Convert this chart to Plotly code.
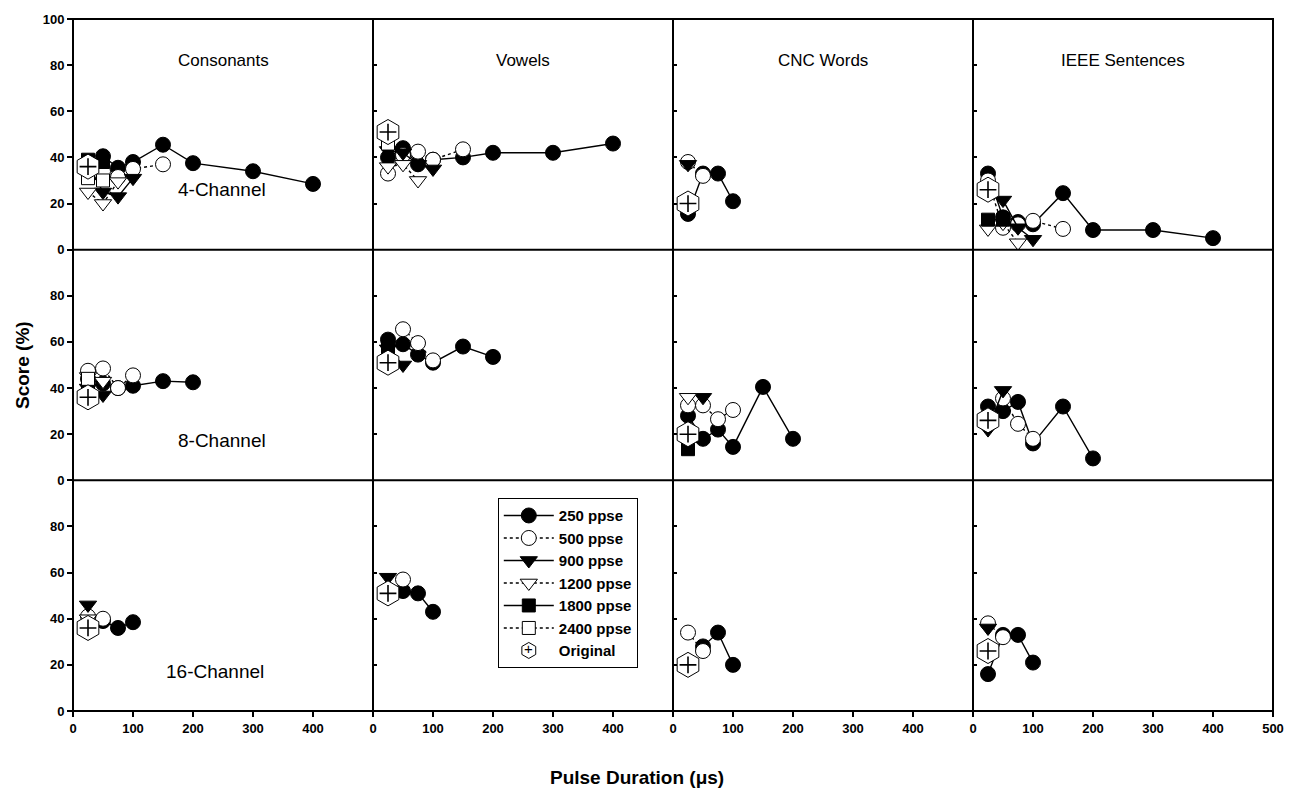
import plotly.graph_objects as go
from plotly.subplots import make_subplots

# Pulse durations (microseconds) at which each condition was tested
durations = [25, 50, 75, 100, 150, 200, 300, 400]
tests = ["Consonants", "Vowels", "CNC Words", "IEEE Sentences"]
channels = ["4-Channel", "8-Channel", "16-Channel"]

# Unprocessed ("Original") score for each test, plotted at 25 us
original = [36, 51, 20, 26]

# Scores (%) per pulse rate; each list holds [4-ch, 8-ch, 16-ch] rows aligned to `durations`
consonants_250 = [[38, 40.5, 35.5, 38, 45.5, 37.5, 34, 28.5], [44, 42, 40, 41, 43, 42.5], [38, 39, 36, 38.5]]
consonants_500 = [[36, 34, 31.5, 35, 37], [47.5, 48.5, 40, 45.5], [41, 40]]
consonants_900 = [[37, 25, 23, 31], [40, 37], [46]]
consonants_1200 = [[25, 20, 29.5], [45, 43], [40]]
consonants_1800 = [[39, 38], [42], []]
consonants_2400 = [[31, 30], [44], []]

vowels_250 = [[40, 44, 37, 39, 40, 42, 42, 46], [61, 59, 54.5, 51, 58, 53.5], [None, 52, 51, 43]]
vowels_500 = [[33, 41, 42.5, 39, 43.5], [None, 65.5, 59.5, 52], [None, 57]]
vowels_900 = [[43, 42, 37, 35], [57, 50], [58]]
vowels_1200 = [[36, 37, 30], [], []]
vowels_1800 = [[], [57], []]
vowels_2400 = [[46], [], []]

cnc_250 = [[15.5, 33, 33, 21], [28, 18, 22, 14.5, 40.5, 18], [None, 28, 34, 20]]
cnc_500 = [[38, 32], [32.5, 32.5, 26.5, 30.5], [34, 26]]
cnc_900 = [[37], [None, 36], []]
cnc_1200 = [[], [36], []]
cnc_1800 = [[], [13.5], []]
cnc_2400 = [[], [], []]

ieee_250 = [[33, 14, 12, 11, 24.5, 8.5, 8.5, 5], [32, 30, 34, 16, 32, 9.5], [16, 33, 33, 21]]
ieee_500 = [[30, 9.5, 11, 12.5, 9], [None, 35.5, 24.5, 18], [38, 32]]
ieee_900 = [[None, 21.5, 9.5, 4.5], [22, 39], [36]]
ieee_1200 = [[9, 11.5, 3], [], []]
ieee_1800 = [[13, 13], [], []]
ieee_2400 = [[], [], []]

rate_labels = ["250 ppse", "500 ppse", "900 ppse", "1200 ppse", "1800 ppse", "2400 ppse"]
scores = {
    "Consonants": [consonants_250, consonants_500, consonants_900, consonants_1200, consonants_1800, consonants_2400],
    "Vowels": [vowels_250, vowels_500, vowels_900, vowels_1200, vowels_1800, vowels_2400],
    "CNC Words": [cnc_250, cnc_500, cnc_900, cnc_1200, cnc_1800, cnc_2400],
    "IEEE Sentences": [ieee_250, ieee_500, ieee_900, ieee_1200, ieee_1800, ieee_2400],
}

# Marker / line style for each pulse rate
styles = [
    dict(symbol="circle", fill="black", dash="solid", size=15),
    dict(symbol="circle", fill="white", dash="dot", size=15),
    dict(symbol="triangle-down", fill="black", dash="solid", size=15),
    dict(symbol="triangle-down", fill="white", dash="dot", size=15),
    dict(symbol="square", fill="black", dash="solid", size=13),
    dict(symbol="square", fill="white", dash="dot", size=13),
]

FONT = "Arial, Liberation Sans, sans-serif"

fig = make_subplots(rows=3, cols=4, horizontal_spacing=0, vertical_spacing=0)

for c, test in enumerate(tests):
    for r in range(3):
        first = (r == 0 and c == 0)
        for k, label in enumerate(rate_labels):
            ys = scores[test][k][r]
            st = styles[k]
            fig.add_trace(go.Scatter(
                x=durations[:len(ys)], y=ys, mode="lines+markers", name=label,
                legendgroup=label, showlegend=first, connectgaps=False,
                line=dict(color="black", width=1.4, dash=st["dash"]),
                marker=dict(symbol=st["symbol"], size=st["size"], color=st["fill"],
                            line=dict(color="black", width=1)),
            ), row=r + 1, col=c + 1)
        # Original (unprocessed) score: hexagon with a plus inside
        fig.add_trace(go.Scatter(
            x=[durations[0]], y=[original[c]], mode="markers", name="Original",
            legendgroup="Original", showlegend=first,
            marker=dict(symbol="hexagon", size=25, color="white", line=dict(color="black", width=1)),
        ), row=r + 1, col=c + 1)
        fig.add_trace(go.Scatter(
            x=[durations[0]], y=[original[c]], mode="markers", showlegend=False,
            legendgroup="Original", hoverinfo="skip",
            marker=dict(symbol="cross-thin", size=12, line=dict(color="black", width=1.6)),
        ), row=r + 1, col=c + 1)

tickfont = dict(family=FONT, size=13, color="black", weight="bold")
for r in range(3):
    for c in range(4):
        xt = [0, 100, 200, 300, 400] + ([500] if c == 3 else [])
        yt = [0, 20, 40, 60, 80] + ([100] if r == 0 else [])
        fig.update_xaxes(range=[0, 500], tickvals=xt, showticklabels=(r == 2),
                         ticks="outside" if r == 2 else "", ticklen=5, tickcolor="black",
                         tickwidth=1.5, tickfont=tickfont, showgrid=False, zeroline=False,
                         showline=False, row=r + 1, col=c + 1)
        fig.update_yaxes(range=[0, 100], tickvals=yt, showticklabels=(c == 0),
                         ticks="outside" if c == 0 else "inside", ticklen=5 if c == 0 else 4,
                         tickwidth=1.5, tickcolor="black", tickfont=tickfont, showgrid=False,
                         zeroline=False, showline=False, row=r + 1, col=c + 1)

# Panel frame: outer border plus dividers between columns and rows
frame = dict(color="black", width=2)
fig.add_shape(type="rect", xref="paper", yref="paper", x0=0, y0=0, x1=1, y1=1,
              line=frame, layer="above")
for fx in (0.25, 0.5, 0.75):
    fig.add_shape(type="line", xref="paper", yref="paper", x0=fx, x1=fx, y0=0, y1=1,
                  line=frame, layer="above")
for fy in (1 / 3, 2 / 3):
    fig.add_shape(type="line", xref="paper", yref="paper", x0=0, x1=1, y0=fy, y1=fy,
                  line=frame, layer="above")

# Column titles and channel labels
title_lbl = dict(family=FONT, size=17, color="black")
chan_lbl = dict(family=FONT, size=19, color="black")
for c, test in enumerate(tests):
    fig.add_annotation(text=test, x=250, y=82, showarrow=False, font=title_lbl, row=1, col=c + 1)
channel_pos = [(248, 26.3), (248, 17.2), (237, 17.2)]
for r, (name, (px, py)) in enumerate(zip(channels, channel_pos)):
    fig.add_annotation(text=name, x=px, y=py, showarrow=False, font=chan_lbl, row=r + 1, col=1)

title_font = dict(family=FONT, size=19, color="black", weight="bold")
fig.add_annotation(text="Score (%)", xref="paper", yref="paper", x=-0.0425, y=0.5,
                   xanchor="center", yanchor="middle",
                   textangle=-90, showarrow=False, font=title_font)
fig.add_annotation(text="Pulse Duration (\u03bcs)", xref="paper", yref="paper", x=0.47, y=-0.0963,
                   xanchor="center", yanchor="middle", showarrow=False, font=title_font)

# Plus sign drawn over the legend's hexagon symbol for "Original"
fig.add_annotation(text="+", xref="paper", yref="paper", x=0.3792, y=0.0876,
                   xanchor="center", yanchor="middle", yshift=2, showarrow=False,
                   font=dict(family=FONT, size=15, color="black"))

fig.update_layout(
    width=1305, height=807,
    margin=dict(l=73, r=32, t=15, b=96),
    paper_bgcolor="white", plot_bgcolor="white",
    showlegend=True,
    legend=dict(x=0.354, y=0.3075, xanchor="left", yanchor="top",
                bgcolor="white", bordercolor="black", borderwidth=1,
                font=dict(family=FONT, size=15, color="black", weight="bold"),
                itemwidth=50, tracegroupgap=0, entrywidth=95),
)

fig.write_html("out.html")
